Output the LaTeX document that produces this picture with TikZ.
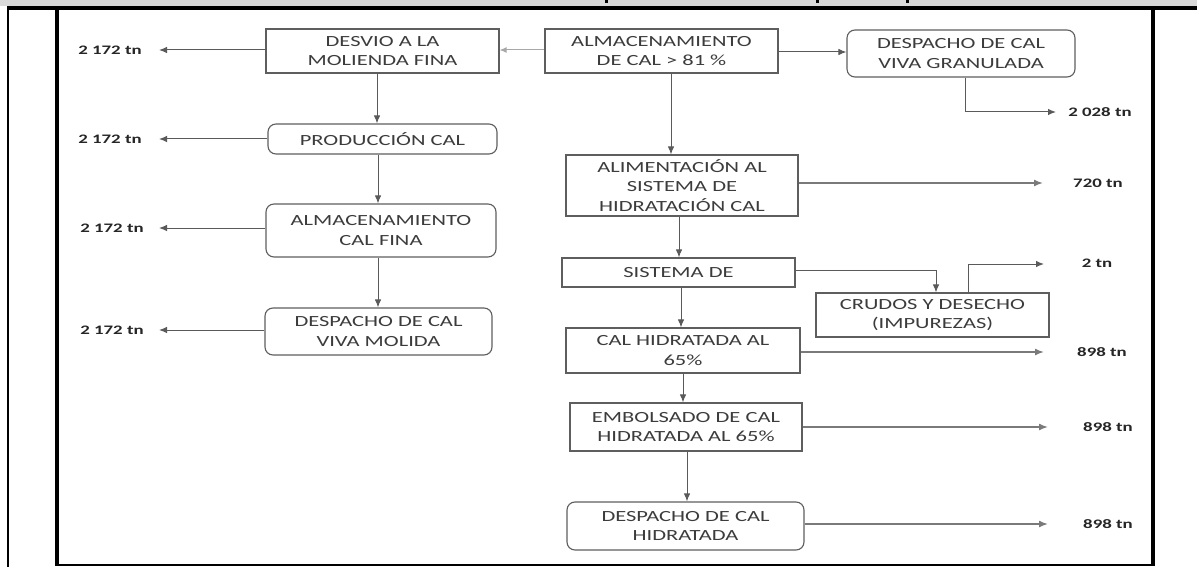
\documentclass[tikz,border=0pt]{standalone}
\usepackage{fontspec}
\setmainfont{Carlito}[FakeStretch=1.45]
\usetikzlibrary{arrows.meta}
\definecolor{boxline}{HTML}{5E5E5E}
\definecolor{txt}{HTML}{3C3C3C}
\definecolor{conn}{HTML}{5A5A5A}
\definecolor{outl}{HTML}{7A7A7A}
\definecolor{lightconn}{HTML}{A8A8A8}
\definecolor{strip}{HTML}{D9D9D9}
\tikzset{
  box/.style n args={2}{draw=boxline, line width=1.1pt, fill=white, inner sep=0pt,
    align=center, text=txt, font=\fontsize{15.5}{19.5}\selectfont,
    minimum width=#1, minimum height=#2},
  rbox/.style n args={2}{box={#1}{#2}, rounded corners=8pt},
  lbl/.style={font=\bfseries\fontsize{13}{15}\selectfont, text=black!85, inner sep=0pt},
  arr/.style={draw=conn, line width=1pt, -{Latex[length=8pt,width=6.5pt]}},
  outarr/.style={draw=outl, line width=1.5pt, -{Latex[length=9pt,width=7pt]}},
  lightarr/.style={draw=lightconn, line width=1pt, -{Latex[length=7pt,width=6pt]}},
  frameline/.style={draw=black}
}
\begin{document}
\begin{tikzpicture}[x=1pt,y=-1pt]
\useasboundingbox (0,0) rectangle (1197,567);
% frame
\fill[strip] (0,0) rectangle (1197,6);
\fill[black] (605,0) rectangle (607.5,3);
\fill[black] (816,0) rectangle (818.5,3);
\fill[black] (906,0) rectangle (908.5,3);
\draw[frameline, line width=4pt] (7,8) -- (1197,8);
\draw[frameline, line width=1.6pt] (8,6) -- (8,567);
\draw[frameline, line width=4pt] (57,8) -- (57,565);
\draw[frameline, line width=3.5pt] (1153,8) -- (1153,565);
\draw[frameline, line width=2.5pt] (55,565) -- (1155,565);

% left column
\node[box={233pt}{44pt}] (desvio) at (382.5,51) {DESVIO A LA\\MOLIENDA FINA};
\node[rbox={229pt}{30pt}] (prod) at (382.5,139) {PRODUCCIÓN CAL};
\node[rbox={230pt}{53pt}] (almfina) at (381,230.5) {ALMACENAMIENTO\\CAL FINA};
\node[rbox={227pt}{47pt}] (despmol) at (378.5,331.5) {DESPACHO DE CAL\\VIVA MOLIDA};

% center column
\node[box={233pt}{44pt}] (alm) at (661.5,51) {ALMACENAMIENTO\\DE CAL > 81 \%};
\node[box={232pt}{61pt}] (alim) at (682,185.5) {ALIMENTACIÓN AL\\SISTEMA DE\\HIDRATACIÓN CAL};
\node[box={233pt}{29pt}] (sist) at (678.5,272.5) {SISTEMA DE};
\node[box={234pt}{45pt}] (calhid) at (683,350.5) {CAL HIDRATADA AL\\65\%};
\node[box={232pt}{48pt}] (embol) at (686,427) {EMBOLSADO DE CAL\\HIDRATADA AL 65\%};
\node[rbox={237pt}{48pt}] (desphid) at (685.5,526) {DESPACHO DE CAL\\HIDRATADA};

% right column
\node[rbox={228pt}{47pt}] (despgran) at (961,53.5) {DESPACHO DE CAL\\VIVA GRANULADA};
\node[box={233pt}{44pt}] (crudos) at (932.5,315) {CRUDOS Y DESECHO\\(IMPUREZAS)};

% labels
\node[lbl] (l1) at (110,50) {2 172 tn};
\node[lbl] (l2) at (110,139) {2 172 tn};
\node[lbl] (l3) at (112,228) {2 172 tn};
\node[lbl] (l4) at (112,330) {2 172 tn};
\node[lbl] (r1) at (1100,112) {2 028 tn};
\node[lbl] (r2) at (1098,183) {720 tn};
\node[lbl] (r3) at (1097,263) {2 tn};
\node[lbl] (r4) at (1102,352) {898 tn};
\node[lbl] (r5) at (1108,427) {898 tn};
\node[lbl] (r6) at (1108,524) {898 tn};

% arrow tips
\coordinate (t1) at (159,50);
\coordinate (t2) at (159,139);
\coordinate (t3) at (159,228);
\coordinate (t4) at (159,330);
\coordinate (g1) at (965,112);
\coordinate (tg) at (1056,112);
\coordinate (t720) at (1043,183);
\coordinate (s1) at (936,270);
\coordinate (c1) at (968,264);
\coordinate (tc) at (1044,264);
\coordinate (t898a) at (1044,352);
\coordinate (t898b) at (1048,427);
\coordinate (t898c) at (1048,524);

% left outputs
\draw[arr] (desvio.west |- t1) -- (t1);
\draw[arr] (prod.west |- t2) -- (t2);
\draw[arr] (almfina.west |- t3) -- (t3);
\draw[arr] (despmol.west |- t4) -- (t4);

% left vertical flow
\draw[arr] (377,0 |- desvio.south) -- (377,0 |- prod.north);
\draw[arr] (378,0 |- prod.south) -- (378,0 |- almfina.north);
\draw[arr] (378,0 |- almfina.south) -- (378,0 |- despmol.north);

% top row
\draw[lightarr] (alm.west |- 0,50) -- (desvio.east |- 0,50);
\draw[arr] (alm.east |- 0,52) -- (despgran.west |- 0,52);
\draw[arr, -] (g1 |- despgran.south) -- (g1);
\draw[arr] (g1) -- (tg);

% center column flow
\draw[arr] (671,0 |- alm.south) -- (671,0 |- alim.north);
\draw[outarr] (alim.east |- t720) -- (t720);
\draw[arr] (679,0 |- alim.south) -- (679,0 |- sist.north);
\draw[arr] (sist.east |- s1) -- (s1) -- (s1 |- crudos.north);
\draw[arr] (c1 |- crudos.north) -- (c1) -- (tc);
\draw[arr] (681,0 |- sist.south) -- (681,0 |- calhid.north);
\draw[outarr] (calhid.east |- t898a) -- (t898a);
\draw[arr] (683,0 |- calhid.south) -- (683,0 |- embol.north);
\draw[outarr] (embol.east |- t898b) -- (t898b);
\draw[arr] (687,0 |- embol.south) -- (687,0 |- desphid.north);
\draw[outarr] (desphid.east |- t898c) -- (t898c);
\end{tikzpicture}
\end{document}
